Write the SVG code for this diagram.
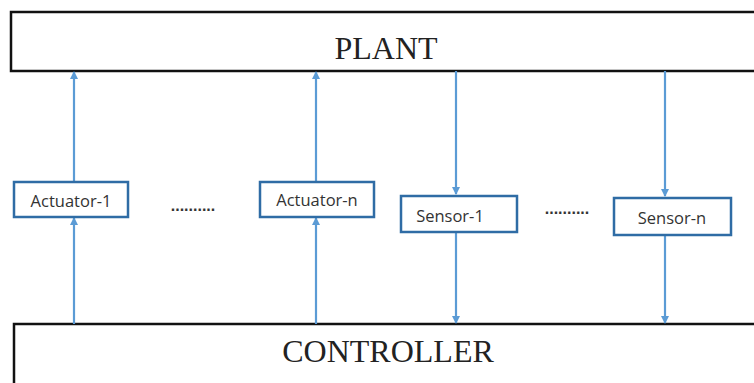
<svg xmlns="http://www.w3.org/2000/svg" width="754" height="383" viewBox="0 0 754 383">
<style>
.big{fill:none;stroke:#111;stroke-width:2.5}
.box{fill:#fff;stroke:#2f6ca5;stroke-width:2.5}
.con{fill:none;stroke:#5b9bd5;stroke-width:2.2}
.tb{font-family:"Liberation Serif",serif;font-size:32px;fill:#222;text-anchor:middle}
.ts{font-family:"Open Sans","Liberation Sans",sans-serif;font-size:16.5px;fill:#333;text-anchor:middle}
.dots{font-family:"Liberation Sans",sans-serif;font-size:16px;font-weight:bold;fill:#333;text-anchor:middle}
</style>
<defs>
<marker id="ah" markerWidth="8" markerHeight="8" refX="7" refY="4" orient="auto" markerUnits="userSpaceOnUse">
<path d="M0,0 L8,4 L0,8 z" fill="#5b9bd5"/>
</marker>
</defs>
<g id="plant">
<path class="big" d="M760,12 H11 V71 H760"/>
<text class="tb" x="386" y="59">PLANT</text>
</g>
<g id="controller">
<path class="big" d="M760,324 H14 V390"/>
<text class="tb" x="388" y="362">CONTROLLER</text>
</g>
<g id="connectors">
<line class="con" x1="74" y1="324" x2="74" y2="218" marker-end="url(#ah)"/>
<line class="con" x1="74" y1="182" x2="74" y2="72" marker-end="url(#ah)"/>
<line class="con" x1="316" y1="324" x2="316" y2="218" marker-end="url(#ah)"/>
<line class="con" x1="316" y1="182" x2="316" y2="72" marker-end="url(#ah)"/>
<line class="con" x1="456" y1="71" x2="456" y2="194" marker-end="url(#ah)"/>
<line class="con" x1="456" y1="232" x2="456" y2="323" marker-end="url(#ah)"/>
<line class="con" x1="665" y1="71" x2="665" y2="196" marker-end="url(#ah)"/>
<line class="con" x1="665" y1="235" x2="665" y2="323" marker-end="url(#ah)"/>
</g>
<g id="actuator-1">
<rect class="box" x="14" y="182" width="114" height="35"/>
<text class="ts" x="71" y="207">Actuator-1</text>
</g>
<g id="actuator-n">
<rect class="box" x="260" y="182" width="114" height="35"/>
<text class="ts" x="317" y="206">Actuator-n</text>
</g>
<g id="sensor-1">
<rect class="box" x="401" y="196" width="116" height="36"/>
<text class="ts" x="450" y="222">Sensor-1</text>
</g>
<g id="sensor-n">
<rect class="box" x="614" y="198" width="117" height="37"/>
<text class="ts" x="672" y="224">Sensor-n</text>
</g>
<text class="dots" x="193" y="211">..........</text>
<text class="dots" x="567" y="214">..........</text>
</svg>
